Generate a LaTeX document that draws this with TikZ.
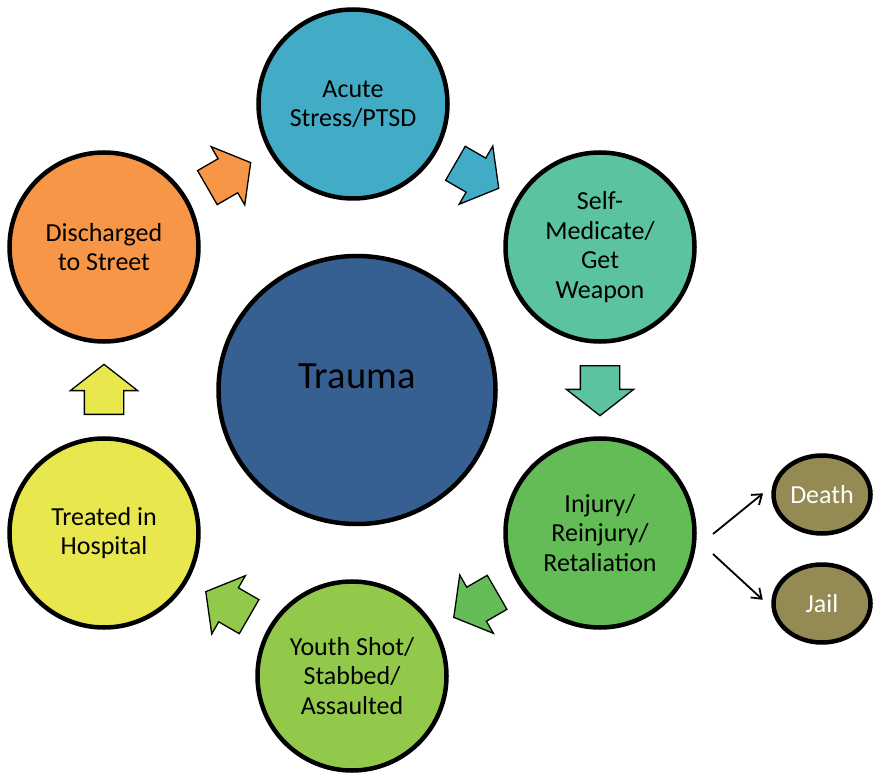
\documentclass[tikz,border=0pt]{standalone}
\usepackage{fontspec}
\setmainfont{Carlito}
\usetikzlibrary{arrows.meta,shapes.geometric,shapes.arrows,calc}
\definecolor{traumablue}{HTML}{376092}
\definecolor{acuteblue}{HTML}{42ABC6}
\definecolor{medteal}{HTML}{5CC39F}
\definecolor{injurygreen}{HTML}{63BC56}
\definecolor{youthgreen}{HTML}{93C94B}
\definecolor{hospyellow}{HTML}{E8E84E}
\definecolor{streetorange}{HTML}{F79646}
\definecolor{endolive}{HTML}{948A54}

\begin{document}
\begin{tikzpicture}[
  x=1pt,
  y=-1pt,
  stagenode/.style={circle, draw=black, line width=4.5pt, minimum size=189pt, inner sep=0pt, align=center, font=\fontsize{26}{29.5}\selectfont},
  traumanode/.style={ellipse, draw=black, line width=4.5pt, fill=traumablue, minimum width=277pt, minimum height=268pt, inner sep=0pt},
  endnode/.style={ellipse, draw=black, line width=4.5pt, fill=endolive, minimum width=97pt, minimum height=78pt, inner sep=0pt, text=white, font=\fontsize{26}{29.5}\selectfont},
  cyclearrow/.style={single arrow, draw=black, line width=1.3pt, minimum height=50pt, inner xsep=0pt, inner ysep=19pt, single arrow head extend=14pt, single arrow tip angle=104, anchor=tail},
  forkarrow/.style={-{Straight Barb[length=9pt,width=13pt]}, line width=1.8pt}
]
\useasboundingbox (0,0) rectangle (875,775);

% centre
\node[traumanode] (trauma) at (357,390) {};
\node[font=\fontsize{38.5}{40}\selectfont] (traumatext) at (357,376.5) {Trauma};

% the cycle
\node[stagenode, fill=acuteblue] (acute) at (353,104) {Acute\\Stress/PTSD};
\node[stagenode, fill=medteal] (selfmed) at (600,247) {Self-\\Medicate/\\Get\\Weapon};
\node[stagenode, fill=injurygreen] (injury) at (600,533) {Injury/\\Reinjury/\\Retaliation};
\node[stagenode, fill=youthgreen] (youth) at (352,676) {Youth Shot/\\Stabbed/\\Assaulted};
\node[stagenode, fill=hospyellow] (hospital) at (104,533) {Treated in\\Hospital};
\node[stagenode, fill=streetorange] (street) at (104,247) {Discharged\\to Street};

% block arrows, tail set 25pt back from the midpoint
\node[cyclearrow, fill=streetorange, rotate=30] (a1) at ($(street)!0.5!(acute)!25pt!(street)$) {};
\node[cyclearrow, fill=acuteblue, rotate=-30] (a2) at ($(acute)!0.5!(selfmed)!25pt!(acute)$) {};
\node[cyclearrow, fill=medteal, rotate=-90] (a3) at ($(selfmed)!0.5!(injury)!25pt!(selfmed)$) {};
\node[cyclearrow, fill=injurygreen, rotate=-150] (a4) at ($(injury)!0.5!(youth)!25pt!(injury)$) {};
\node[cyclearrow, fill=youthgreen, rotate=150] (a5) at ($(youth)!0.5!(hospital)!25pt!(youth)$) {};
\node[cyclearrow, fill=hospyellow, rotate=90] (a6) at ($(hospital)!0.5!(street)!25pt!(hospital)$) {};

% outcomes
\node[endnode] (death) at (822,494.5) {Death};
\node[endnode] (jail) at (822,603.5) {Jail};
\coordinate (split1) at (713,534);
\coordinate (split2) at (713,554);
\draw[forkarrow, shorten >=12pt] (split1) -- (death.170);
\draw[forkarrow, shorten >=12pt] (split2) -- (jail.185);
\end{tikzpicture}
\end{document}
